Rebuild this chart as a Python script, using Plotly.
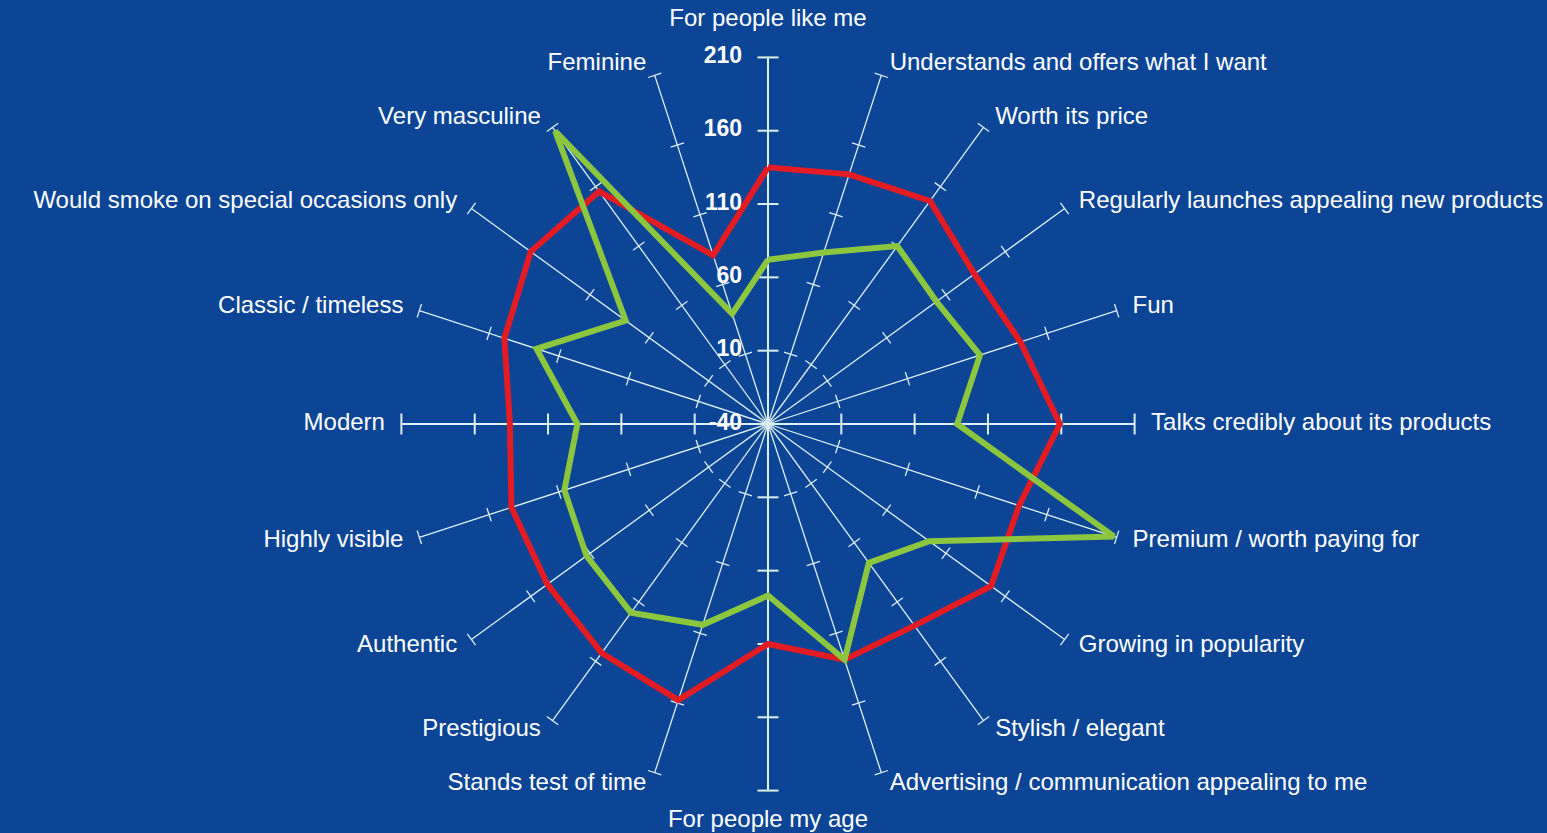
import plotly.graph_objects as go

categories = [
    "For people like me",
    "Understands and offers what I want",
    "Worth its price",
    "Regularly launches appealing new products",
    "Fun",
    "Talks credibly about its products",
    "Premium / worth paying for",
    "Growing in popularity",
    "Stylish / elegant",
    "Advertising / communication appealing to me",
    "For people my age",
    "Stands test of time",
    "Prestigious",
    "Authentic",
    "Highly visible",
    "Modern",
    "Classic / timeless",
    "Would smoke on special occasions only",
    "Very masculine",
    "Feminine",
]

red_values = [135, 139, 148, 134, 141, 159, 140, 148, 130, 129,
              110, 158, 153, 146, 144, 136, 149, 160, 156, 81]
green_values = [72, 83, 110, 102, 112, 89, 208, 96, 77, 129,
                77, 104, 119, 113, 106, 90, 126, 80, 207, 39]

radial_ticks = [-40, 10, 60, 110, 160, 210]
radial_tick_labels = ["-40", "10", "60", "110", "160", "210"]
r_min, r_max = -40, 210
label_room = 18  # extra radial room (in data units) for category labels

BG = "#0c4596"
SPOKE = "#dcf0f2"
RED = "#e31b23"
GREEN = "#8cc63f"
FONT = "Liberation Sans, Arial, sans-serif"

fig = go.Figure()

n = len(categories)
step = 360.0 / n
main_idx = [0, 5, 10, 15]

# thin spokes
sp_r, sp_t = [], []
for i, c in enumerate(categories):
    if i not in main_idx:
        sp_r += [r_min, r_max, None]
        sp_t += [c, c, None]
fig.add_trace(go.Scatterpolar(
    r=sp_r, theta=sp_t, mode="lines", connectgaps=False,
    line=dict(color=SPOKE, width=1.3), hoverinfo="skip", showlegend=False,
))

tk_r, tk_t, tk_a = [], [], []
mk_r, mk_t, mk_a = [], [], []
for i, c in enumerate(categories):
    for v in radial_ticks[1:]:
        if i in main_idx:
            mk_r.append(v); mk_t.append(c); mk_a.append(i * step)
        else:
            tk_r.append(v); tk_t.append(c); tk_a.append(i * step)

fig.add_trace(go.Scatterpolar(
    r=tk_r, theta=tk_t, mode="markers", hoverinfo="skip", showlegend=False,
    marker=dict(symbol="line-ew", size=10, angle=tk_a, color=SPOKE,
                line=dict(color=SPOKE, width=1.3)),
))

# main axes (thicker)
for i in main_idx:
    fig.add_trace(go.Scatterpolar(
        r=[r_min, r_max], theta=[categories[i], categories[i]], mode="lines",
        line=dict(color=SPOKE, width=2), hoverinfo="skip", showlegend=False,
    ))

fig.add_trace(go.Scatterpolar(
    r=mk_r, theta=mk_t, mode="markers", hoverinfo="skip", showlegend=False,
    marker=dict(symbol="line-ew", size=15, angle=mk_a, color=SPOKE,
                line=dict(color=SPOKE, width=2)),
))

fig.add_trace(go.Scatterpolar(
    r=red_values + red_values[:1], theta=categories + categories[:1],
    mode="lines", line=dict(color=RED, width=6), showlegend=False,
))
fig.add_trace(go.Scatterpolar(
    r=green_values + green_values[:1], theta=categories + categories[:1],
    mode="lines", line=dict(color=GREEN, width=6), showlegend=False,
))

# radial value labels along the top axis
fig.add_trace(go.Scatterpolar(
    r=radial_ticks, theta=[categories[0]] * len(radial_ticks),
    mode="markers+text", text=[f"<b>{t}</b>" for t in radial_tick_labels],
    textposition="middle left", hoverinfo="skip", showlegend=False,
    marker=dict(size=40, opacity=0),
    textfont=dict(size=23, color="white", family=FONT),
))

# category labels just beyond the end of each spoke
lab_r, lab_pos = [], []
for i in range(n):
    if i == 0:
        lab_r.append(r_max + 14); lab_pos.append("top center")
    elif i == n // 2:
        lab_r.append(r_max + 9); lab_pos.append("bottom center")
    elif i < n // 2:
        lab_r.append(r_max + 8); lab_pos.append("middle right")
    else:
        lab_r.append(r_max + 8); lab_pos.append("middle left")

fig.add_trace(go.Scatterpolar(
    r=lab_r, theta=categories, mode="markers+text", text=categories,
    textposition=lab_pos, cliponaxis=False, hoverinfo="skip",
    showlegend=False, marker=dict(size=6, opacity=0),
    textfont=dict(size=24, color="white", family=FONT),
))

outer = r_max + label_room
radius_px = 367.0 * (outer - r_min) / (r_max - r_min)
top_m = round(424 - radius_px)
bot_m = round(833 - 424 - radius_px)

fig.update_layout(
    width=1547, height=833,
    paper_bgcolor=BG, plot_bgcolor=BG,
    margin=dict(l=0, r=11, t=top_m, b=bot_m),
    font=dict(family=FONT, color="white"),
    polar=dict(
        bgcolor=BG,
        domain=dict(x=[0, 1], y=[0, 1]),
        angularaxis=dict(
            type="category", categoryorder="array", categoryarray=categories,
            rotation=90, direction="clockwise",
            showgrid=False, showline=False, ticks="", showticklabels=False,
        ),
        radialaxis=dict(
            range=[r_min, outer], tickvals=radial_ticks,
            showgrid=False, showline=False, showticklabels=False, ticks="",
            angle=90,
        ),
    ),
)

fig.write_html("out.html",
               config={"displayModeBar": False},
               post_script="document.body.style.margin='0px';"
                           "document.body.style.overflow='hidden';")
